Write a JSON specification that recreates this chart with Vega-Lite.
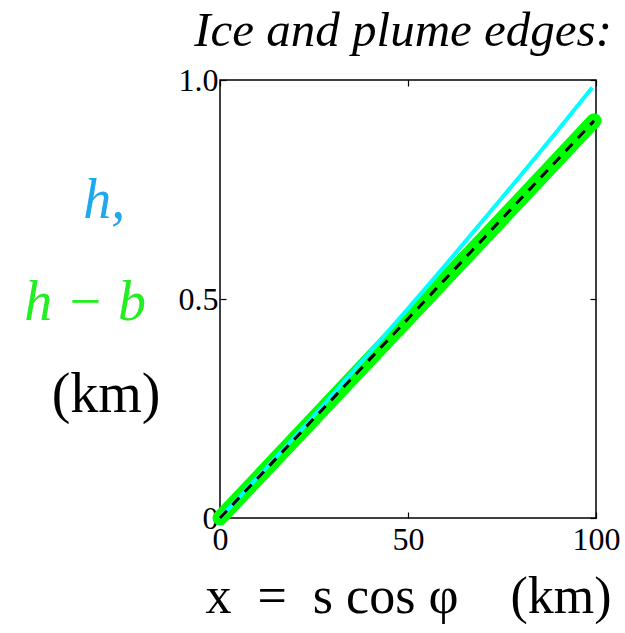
{
  "$schema": "https://vega.github.io/schema/vega-lite/v6.json",
  "width": 376,
  "height": 438,
  "autosize": {"type": "none"},
  "padding": {"left": 220, "top": 80, "right": 29, "bottom": 115},
  "background": "white",
  "config": {
    "view": {"stroke": "black", "strokeWidth": 1.5},
    "axis": {
      "domain": false, "grid": false, "labelFlush": false,
      "labelFont": "Liberation Serif", "labelFontSize": 32, "labelColor": "black",
      "tickColor": "black", "tickSize": -6, "tickWidth": 1.2,
      "titleFont": "Liberation Serif", "titleColor": "black", "titleFontWeight": "normal"
    }
  },
  "title": {
    "text": "Ice and plume edges:",
    "anchor": "end", "frame": "group",
    "font": "Liberation Serif", "fontStyle": "italic", "fontWeight": "normal",
    "fontSize": 49, "color": "black", "dx": 16, "offset": -31, "baseline": "alphabetic"
  },
  "datasets": {
    "ice": [
      {"x": 0, "h": 0},
      {"x": 10, "h": 0.093},
      {"x": 25, "h": 0.234},
      {"x": 40, "h": 0.38},
      {"x": 50, "h": 0.478},
      {"x": 60, "h": 0.578},
      {"x": 75, "h": 0.731},
      {"x": 90, "h": 0.887},
      {"x": 99, "h": 0.983}
    ],
    "plume": [
      {"x": 0, "h": 0},
      {"x": 50, "h": 0.455},
      {"x": 99.5, "h": 0.907}
    ]
  },
  "resolve": {"axis": {"x": "independent", "y": "independent"}},
  "layer": [
    {
      "data": {"name": "plume"},
      "mark": {"type": "line", "color": "#00ff00", "strokeWidth": 15, "strokeCap": "round", "clip": false},
      "encoding": {
        "x": {"field": "x", "type": "quantitative", "scale": {"domain": [0, 100], "nice": false},
          "axis": {"values": [0, 50, 100], "title": "x\u2002=\u2002s cos φ\u2003(km)", "titleFontSize": 52, "labelPadding": 12, "titlePadding": 16}},
        "y": {"field": "h", "type": "quantitative", "scale": {"domain": [0, 1], "nice": false, "zero": true},
          "axis": {"values": [0, 0.5, 1], "labelExpr": "datum.value == 0 ? '0' : format(datum.value, '.1f')", "title": null, "labelPadding": 8}}
      }
    },
    {
      "data": {"name": "ice"},
      "mark": {"type": "line", "color": "#00ffff", "strokeWidth": 4, "interpolate": "monotone", "clip": false},
      "encoding": {
        "x": {"field": "x", "type": "quantitative", "axis": null},
        "y": {"field": "h", "type": "quantitative", "axis": null}
      }
    },
    {
      "data": {"name": "plume"},
      "mark": {"type": "line", "color": "black", "strokeWidth": 3, "strokeDash": [10, 8], "clip": false},
      "encoding": {
        "x": {"field": "x", "type": "quantitative", "axis": null},
        "y": {"field": "h", "type": "quantitative", "axis": null}
      }
    },
    {
      "data": {"name": "plume"},
      "mark": {"type": "point", "opacity": 0},
      "encoding": {
        "x": {"field": "x", "type": "quantitative", "axis": {"orient": "top", "values": [0, 50, 100], "labels": false, "title": null}},
        "y": {"field": "h", "type": "quantitative", "axis": {"orient": "right", "values": [0, 0.5, 1], "labels": false, "title": null}}
      }
    },
    {
      "data": {"values": [{}]},
      "mark": {"type": "text", "font": "Liberation Serif", "fontStyle": "italic", "fontSize": 56, "color": "#1ea8ee", "align": "center", "baseline": "alphabetic"},
      "encoding": {
        "x": {"datum": -30.8, "type": "quantitative", "axis": null},
        "y": {"datum": 0.685, "type": "quantitative", "axis": null},
        "text": {"value": "h,"}
      }
    },
    {
      "data": {"values": [{}]},
      "mark": {"type": "text", "font": "Liberation Serif", "fontStyle": "italic", "fontSize": 56, "color": "#22ee22", "align": "center", "baseline": "alphabetic"},
      "encoding": {
        "x": {"datum": -35.9, "type": "quantitative", "axis": null},
        "y": {"datum": 0.452, "type": "quantitative", "axis": null},
        "text": {"value": "h − b"}
      }
    },
    {
      "data": {"values": [{}]},
      "mark": {"type": "text", "font": "Liberation Serif", "fontSize": 56, "color": "black", "align": "center", "baseline": "alphabetic"},
      "encoding": {
        "x": {"datum": -30.3, "type": "quantitative", "axis": null},
        "y": {"datum": 0.242, "type": "quantitative", "axis": null},
        "text": {"value": "(km)"}
      }
    }
  ]
}
